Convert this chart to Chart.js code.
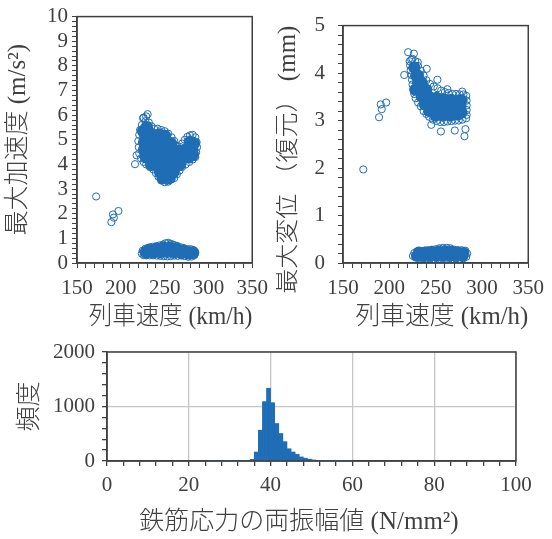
<!DOCTYPE html>
<html>
<head>
<meta charset="utf-8">
<script src="https://cdn.jsdelivr.net/npm/chart.js@4.4.1/dist/chart.umd.min.js"></script>
<style>
  body { margin: 0; background: #fff; }
  #wrap { position: relative; width: 552px; height: 539px; }
  .box { position: absolute; }
</style>
</head>
<body>
<div id="wrap">
  <div class="box" style="left:0;top:0;width:276px;height:330px"><canvas id="acc"></canvas></div>
  <div class="box" style="left:276px;top:0;width:276px;height:330px"><canvas id="disp"></canvas></div>
  <div class="box" style="left:0;top:330px;width:552px;height:209px"><canvas id="hist"></canvas></div>
</div>
<script>
// 最大加速度 vs 列車速度  [km/h, m/s2]  (open markers: outline + isolated runs)
const accPoints = [
  [171.8,2.70],[191.0,1.97],[189.2,1.66],[192.1,1.84],[197.3,2.11],[216.2,4.01],[218.0,4.37],
  [226,5.9],[230.6,6.04],[225.4,5.88],[229,5.95],[228,5.75],[232,5.7],[224,5.6],[235,5.55],
  [222,5.4],[221,5.2],[238,5.45],[242,5.45],[246,5.4],[250,5.35],[254,5.25],[258,5.1],
  [261,4.95],[264,4.75],[267,4.72],[270,4.85],[273,5.0],[276,5.12],[279,5.18],[282,5.2],
  [285,5.1],[286.5,4.9],[287,4.7],[286,4.5],[285,4.3],[282,4.2],[278,4.1],[274,4.0],
  [270,3.9],[267,3.75],[264,3.6],[261,3.45],[258,3.4],[254,3.3],[250,3.28],[246,3.35],
  [243,3.5],[240,3.65],[237,3.8],[233,3.9],[229,4.0],[226,4.1],[223,4.25],[221,4.45],
  [220.5,4.7],[220,4.95],
  [224,0.38],[225,0.5],[228,0.58],[232,0.62],[236,0.66],[240,0.68],[244,0.71],[248,0.75],
  [251,0.8],[254,0.82],[257,0.78],[260,0.74],[264,0.7],[268,0.64],[272,0.6],[276,0.57],
  [280,0.56],[283,0.52],[285,0.43],[284,0.32],[281,0.26],[277,0.25],[273,0.28],[269,0.3],
  [265,0.29],[261,0.3],[257,0.28],[253,0.27],[249,0.28],[245,0.29],[241,0.3],[237,0.31],
  [233,0.31],[229,0.31],[226,0.32]
];
// overlapping markers inside the two clouds
const accDense = [
  [229.5,5.5],[226,5.35],
  [228,5.2],[236,5.2],[244,5.2],[250,5.15],
  [227,4.9],[235,4.9],[243,4.9],[251,4.9],[257,4.85],[279,4.9],[283,4.85],
  [227,4.6],[235,4.6],[243,4.6],[251,4.6],[259,4.6],[267,4.55],[275,4.6],[281,4.6],
  [229,4.3],[237,4.3],[245,4.3],[253,4.3],[261,4.3],[269,4.3],[277,4.3],[282,4.4],
  [235,4.0],[243,4.0],[251,4.0],[259,4.0],[267,4.0],
  [245,3.7],[253,3.7],[260,3.7],
  [248,3.45],[255,3.45],
  [229,0.44],[237,0.45],[245,0.46],[253,0.47],[261,0.46],[269,0.43],[277,0.41],[282,0.42],
  [233,0.53],[241,0.56],[249,0.6],[256,0.62],[263,0.57],[271,0.5]
];

// 最大変位（復元） vs 列車速度  [km/h, mm]
const dispPoints = [
  [171.9,1.97],[188.9,3.07],[191.8,3.24],[190.7,3.34],[196.6,3.38],[216.1,3.96],
  [220.3,4.44],[226.5,4.41],[223.7,4.28],[230.7,4.23],[240.4,4.09],[251.9,3.86],
  [245.3,2.91],[255.7,2.77],[270.7,2.79],[282.2,2.82],[281.1,2.67],[262.7,3.66],[278.7,3.61],
  [222,4.25],[225,4.3],[228,4.25],[231,4.15],[234,4.05],[237,3.95],[240,3.85],[244,3.77],
  [248,3.72],[252,3.68],[256,3.63],[260,3.6],[264,3.58],[268,3.56],[272,3.56],[276,3.55],
  [280,3.55],[283,3.52],[283.5,3.42],[283.5,3.32],[283.5,3.22],[283.5,3.12],[283,3.05],
  [279,3.02],[275,3.0],[271,3.0],[267,2.99],[263,2.98],[259,2.97],[255,2.97],[251,2.99],
  [247,3.02],[243,3.08],[240,3.14],[237,3.2],[234,3.3],[231,3.38],[228.5,3.47],[227,3.56],
  [226,3.66],[225,3.76],[224.5,3.86],[224,3.96],[223,4.06],[222.5,4.16],
  [225.5,0.15],[227,0.21],[230,0.24],[234,0.25],[238,0.26],[242,0.27],[246,0.28],[250,0.29],
  [254,0.31],[258,0.32],[262,0.32],[266,0.31],[270,0.28],[274,0.27],[278,0.27],[282,0.26],
  [284,0.2],[283,0.13],[280,0.1],[276,0.09],[272,0.09],[268,0.08],[264,0.08],[260,0.07],
  [256,0.07],[252,0.08],[248,0.08],[244,0.09],[240,0.1],[236,0.1],[232,0.11],[228,0.12]
];
const dispDense = [
  [227,4.12],[229,3.95],[231,3.95],[231,3.8],[235,3.8],[232,3.65],[240,3.65],[228,3.65],
  [235,3.5],[243,3.5],[251,3.48],[259,3.45],[267,3.44],[275,3.43],[278,3.43],
  [238,3.35],[246,3.33],[254,3.32],[262,3.3],[270,3.3],[277,3.3],
  [243,3.2],[251,3.18],[259,3.17],[267,3.17],[275,3.17],[278,3.17],
  [250,3.1],[258,3.1],[266,3.1],[274,3.12],
  [230,0.15],[237,0.15],[244,0.15],[251,0.15],[258,0.15],[265,0.15],[272,0.15],[279,0.15],
  [232,0.22],[239,0.22],[246,0.23],[253,0.24],[260,0.25],[267,0.24],[274,0.22],[280,0.21]
];

// 鉄筋応力の両振幅値 histogram, 1 N/mm2 bins (bin centres) and counts
const stressBins = [
  25.5,26.5,27.5,28.5,29.5,30.5,31.5,32.5,33.5,34.5,35.5,36.5,37.5,38.5,39.5,40.5,41.5,42.5,
  43.5,44.5,45.5,46.5,47.5,48.5,49.5,50.5,51.5,52.5,53.5,54.5,55.5,56.5,57.5,58.5,59.5
];
const stressCounts = [
  2,2,3,3,4,4,5,6,8,12,30,165,565,1090,1335,1070,688,505,
  355,225,165,122,75,52,34,20,12,8,6,5,4,3,3,2,2
];

const blue = '#1f6db5';
const ink = '#404040';
const gridGrey = '#c6c6c6';

Chart.defaults.font.family = "'Liberation Serif', 'Noto Sans CJK JP', serif";
Chart.defaults.font.size = 21;
Chart.defaults.color = ink;
Chart.defaults.animation = false;

const toXY = arr => arr.map(p => ({ x: p[0], y: p[1] }));
const wholeOnly = v => { const r = Math.round(v); return Math.abs(v - r) < 1e-6 ? r : ''; };
const titleFont = { size: 25, lineHeight: 1, weight: 300 };

// closes the plot box on the top and right
const boxFrame = {
  id: 'boxFrame',
  afterDraw(chart) {
    const a = chart.chartArea, c = chart.ctx;
    c.save();
    c.strokeStyle = ink;
    c.lineWidth = 1.5;
    c.strokeRect(a.left, a.top, a.right - a.left, a.bottom - a.top);
    c.restore();
  }
};

function scatterChart(id, open, dense, yMax, yTitle, o) {
  return new Chart(document.getElementById(id), {
    type: 'scatter',
    data: {
      datasets: [
        { data: toXY(dense), pointRadius: o.denseR, pointBackgroundColor: blue, pointBorderWidth: 0 },
        { data: toXY(open), pointRadius: 3.6, pointBackgroundColor: 'rgba(0,0,0,0)',
          pointBorderColor: blue, pointBorderWidth: 1 }
      ]
    },
    options: {
      responsive: true,
      maintainAspectRatio: false,
      layout: { padding: { top: 14, right: o.right, left: 0, bottom: 0 } },
      plugins: { legend: { display: false }, tooltip: { enabled: false } },
      scales: {
        x: {
          type: 'linear', min: 150, max: 350,
          afterFit: s => { s.height = 67; },
          ticks: { stepSize: 10, autoSkip: false, maxRotation: 0, padding: 8,
                   callback: v => (v % 50 === 0 ? v : '') },
          grid: { drawOnChartArea: false, tickLength: 5, color: ink, tickColor: ink },
          border: { color: ink, width: 1.5 },
          title: { display: true, text: '\u2002列車速度 (km/h)', font: titleFont,
                   padding: { top: 0, bottom: 0 } }
        },
        y: {
          min: 0, max: yMax,
          afterFit: s => { s.width = o.axisW; },
          ticks: { stepSize: 0.2, autoSkip: false, padding: o.tickPad, callback: wholeOnly },
          grid: { drawOnChartArea: false, tickLength: 5, color: ink, tickColor: ink },
          border: { color: ink, width: 1.5 },
          title: { display: true, text: yTitle, font: titleFont, align: o.titleAlign,
                   padding: { top: o.titlePad, bottom: 0 } }
        }
      }
    },
    plugins: [boxFrame]
  });
}

scatterChart('acc', accPoints, accDense, 10, '最大加速度 (m/s²)',
  { right: 17, axisW: 77, tickPad: 4, titlePad: 6, titleAlign: 'center', denseR: 6.5 });
scatterChart('disp', dispPoints, dispDense, 5, '最大変位 （復元） (mm)',
  { right: 18, axisW: 67, tickPad: 13, titlePad: 0, titleAlign: 'end', denseR: 6 });

new Chart(document.getElementById('hist'), {
  type: 'bar',
  data: {
    datasets: [{
      data: stressBins.map((b, i) => ({ x: b, y: stressCounts[i] })),
      backgroundColor: blue,
      borderWidth: 0,
      barPercentage: 1,
      categoryPercentage: 1
    }]
  },
  options: {
    responsive: true,
    maintainAspectRatio: false,
    layout: { padding: { top: 22, right: 36, left: 0, bottom: 0 } },
    plugins: { legend: { display: false }, tooltip: { enabled: false } },
    scales: {
      x: {
        type: 'linear', min: 0, max: 100, offset: false,
        afterFit: s => { s.height = 78; },
        ticks: { stepSize: 4, autoSkip: false, maxRotation: 0, padding: 7,
                 callback: v => (v % 20 === 0 ? v : '') },
        grid: { offset: false, tickLength: 5, lineWidth: 1.3,
                color: c => (c.tick && c.tick.value % 20 === 0 ? gridGrey : 'rgba(0,0,0,0)'),
                tickColor: ink },
        border: { color: ink, width: 1.5 },
        title: { display: true, text: '鉄筋応力の両振幅値 (N/mm²)\u2003', font: titleFont,
                 padding: { top: 0, bottom: 4 } }
      },
      y: {
        min: 0, max: 2000,
        afterFit: s => { s.width = 107; },
        ticks: { stepSize: 200, autoSkip: false, padding: 7,
                 callback: v => (v % 1000 === 0 ? v : '') },
        grid: { tickLength: 5, lineWidth: 1.3,
                color: c => (c.tick && c.tick.value % 1000 === 0 ? gridGrey : 'rgba(0,0,0,0)'),
                tickColor: ink },
        border: { color: ink, width: 1.5 },
        title: { display: true, text: '頻度', font: titleFont, padding: { top: 18, bottom: 0 } }
      }
    }
  },
  plugins: [boxFrame]
});
</script>
</body>
</html>
